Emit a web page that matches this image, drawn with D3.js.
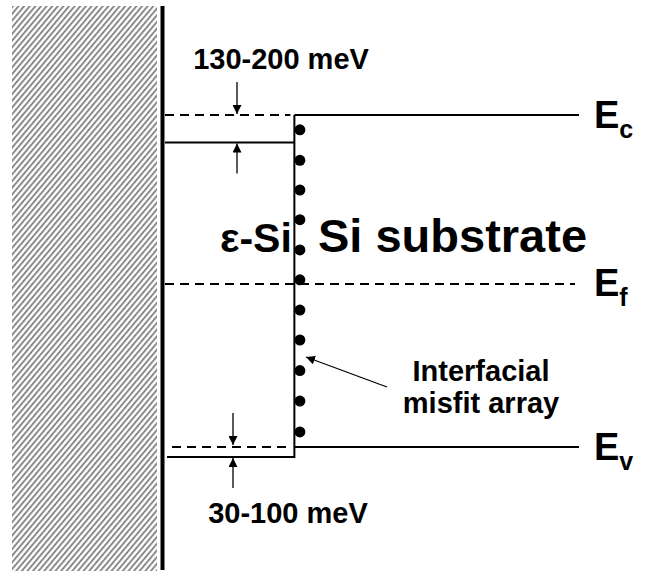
<!DOCTYPE html>
<html><head><meta charset="utf-8">
<script src="https://cdn.jsdelivr.net/npm/d3@7"></script>
<style>body{margin:0;background:#fff}svg{display:block}text{font-family:"Liberation Sans",Arial,sans-serif;font-weight:bold;fill:#000}</style>
</head><body><div id="chart"></div>
<script>
// ---- data (energies in eV, depth in nm) ----
const bandNames = ["c", "f", "v"];                 // subscripts for E labels
const substrateLevels = [1.12, 0.55, 0.0];          // Ec, Ef, Ev in substrate
const strainedLevels = [1.027, 0.55, -0.034];       // Ec, Ef, Ev in strained Si
const levelStyles = ["solid", "dashed", "solid"];
const layerDepth = [0, 20, 64];                     // surface, interface, end
const dotEnergies = [1.07, 0.967, 0.867, 0.767, 0.665, 0.564, 0.462, 0.361, 0.258, 0.155, 0.051];
const offsetLabels = ["130-200 meV", "30-100 meV"];
const regionLabels = ["ε-Si", "Si substrate"];
const noteLines = ["Interfacial", "misfit array"];

const W = 650, H = 571;
const svg = d3.select("#chart").append("svg").attr("width", W).attr("height", H);
const y = d3.scaleLinear().domain([0, 1.12]).range([447, 115]);
const x = d3.scaleLinear().domain([0, 64]).range([165, 579]);

const defs = svg.append("defs");
const pat = defs.append("pattern").attr("id", "hatch").attr("patternUnits", "userSpaceOnUse")
  .attr("width", 4.3).attr("height", 10).attr("patternTransform", "rotate(40)");
pat.append("line").attr("x1", 1).attr("x2", 1).attr("y1", 0).attr("y2", 10)
  .attr("stroke", "#808080").attr("stroke-width", 1.8);
const mk = defs.append("marker").attr("id", "ah").attr("viewBox", "0 0 10 10")
  .attr("refX", 10).attr("refY", 5).attr("markerWidth", 9).attr("markerHeight", 9)
  .attr("markerUnits", "userSpaceOnUse").attr("orient", "auto");
mk.append("path").attr("d", "M0,0L10,5L0,10Z").attr("fill", "#000");

// wall
svg.append("rect").attr("x", 12).attr("y", 6).attr("width", 145).attr("height", H - 6).attr("fill", "url(#hatch)");
svg.append("line").attr("x1", 162.5).attr("x2", 162.5).attr("y1", 6).attr("y2", 570)
  .attr("stroke", "#000").attr("stroke-width", 4);

const xs = x(layerDepth[0]), xi = x(layerDepth[1]), xe = x(layerDepth[2]);
// substrate levels
substrateLevels.forEach((e, i) => {
  if (levelStyles[i] === "dashed") {
    svg.append("line").attr("x1", xs).attr("x2", xe - 4).attr("y1", y(e)).attr("y2", y(e))
      .attr("stroke", "#000").attr("stroke-width", 2).attr("stroke-dasharray", "9,6");
  } else {
    svg.append("line").attr("x1", xi).attr("x2", xe).attr("y1", y(e)).attr("y2", y(e))
      .attr("stroke", "#000").attr("stroke-width", 2);
    // projected substrate level into strained layer (dashed)
    svg.append("line").attr("x1", xs + (i === 2 ? 7 : 0)).attr("x2", xi - 4).attr("y1", y(e)).attr("y2", y(e))
      .attr("stroke", "#000").attr("stroke-width", 2).attr("stroke-dasharray", "9,6");
  }
  const g = svg.append("text").attr("x", 594).attr("y", y(e) + 12.5).style("font-size", "38px");
  g.append("tspan").text("E");
  g.append("tspan").attr("dy", 10).style("font-size", "25px").text(bandNames[i]);
});
// strained layer box
svg.append("path").attr("fill", "none").attr("stroke", "#000").attr("stroke-width", 2)
  .attr("d", `M${xs},${y(strainedLevels[0])}H${xi}V${y(substrateLevels[0])}M${xi},${y(substrateLevels[0])}V${y(strainedLevels[2])}H${xs + 2}`);

// dots
svg.selectAll("circle.dot").data(dotEnergies).join("circle").attr("class", "dot")
  .attr("cx", xi + 5.5).attr("cy", d => y(d)).attr("r", 5.5).attr("fill", "#000");

// offset arrows
function arrow(x0, y0, x1, y1) {
  svg.append("line").attr("x1", x0).attr("y1", y0).attr("x2", x1).attr("y2", y1)
    .attr("stroke", "#000").attr("stroke-width", 1.3).attr("marker-end", "url(#ah)");
}
const ax1 = 237, ax2 = 233;
arrow(ax1, y(substrateLevels[0]) - 33, ax1, y(substrateLevels[0]) - 1);
arrow(ax1, y(strainedLevels[0]) + 31, ax1, y(strainedLevels[0]) + 1);
arrow(ax2, y(substrateLevels[2]) - 34, ax2, y(substrateLevels[2]) - 2);
arrow(ax2, y(strainedLevels[2]) + 31, ax2, y(strainedLevels[2]) + 1);
arrow(387, 387, 306, 357);

svg.append("text").attr("x", 281).attr("y", 69).attr("text-anchor", "middle").style("font-size", "29px").text(offsetLabels[0]);
svg.append("text").attr("x", 288).attr("y", 523).attr("text-anchor", "middle").style("font-size", "29px").text(offsetLabels[1]);
svg.append("text").attr("x", 220).attr("y", 252).style("font-size", "41px").text(regionLabels[0]);
svg.append("text").attr("x", 318).attr("y", 252).style("font-size", "47px").text(regionLabels[1]);
noteLines.forEach((t, i) => svg.append("text").attr("x", 481).attr("y", 381 + i * 32)
  .attr("text-anchor", "middle").style("font-size", "29px").text(t));
</script></body></html>
